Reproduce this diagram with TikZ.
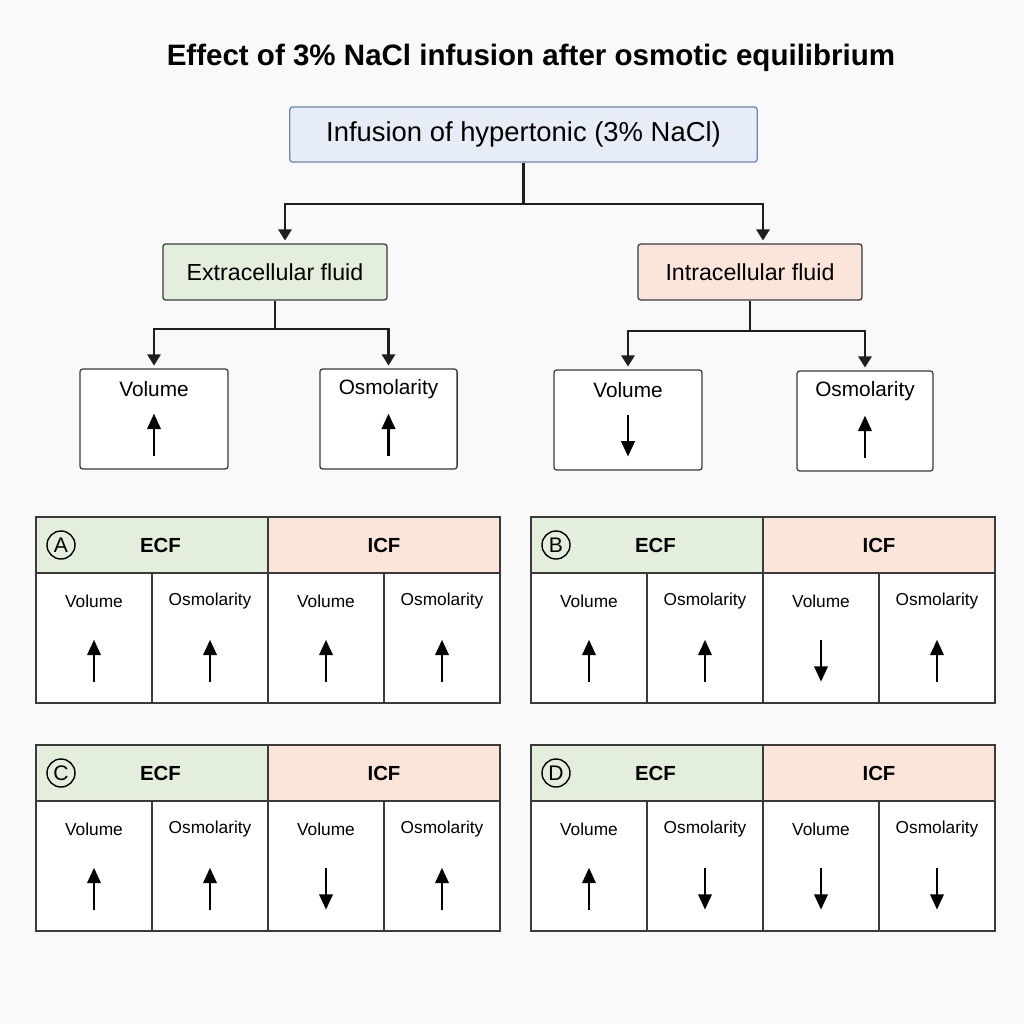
\documentclass[tikz,border=0pt]{standalone}
\usepackage{fontspec}
\setmainfont{Liberation Sans}
\usetikzlibrary{arrows.meta,positioning,calc}
\definecolor{cBg}{HTML}{F9F9F9}
\definecolor{cBlueF}{HTML}{E7EDF7}
\definecolor{cBlueD}{HTML}{6F85AE}
\definecolor{cGreenF}{HTML}{E3EFDC}
\definecolor{cPeachF}{HTML}{FBE5DA}
\definecolor{cLine}{HTML}{1E1E1E}
\definecolor{cBox}{HTML}{3A3A3A}
\tikzset{
  blk/.style    = {rounded corners=2pt, draw=cBox, line width=0.9pt, align=center, inner sep=0pt},
  topbox/.style = {blk, fill=cBlueF, draw=cBlueD, font=\fontsize{19.5}{22}\selectfont,
                   minimum width=11.68cm, minimum height=1.38cm},
  ecfbox/.style = {blk, fill=cGreenF, font=\fontsize{16.5}{19}\selectfont,
                   minimum width=5.6cm, minimum height=1.4cm},
  icfbox/.style = {ecfbox, fill=cPeachF},
  valbox/.style = {blk, fill=white, minimum height=2.5cm},
  valtxt/.style = {font=\fontsize{14.8}{17}\selectfont},
  conn/.style   = {cLine, line width=1.6pt, shorten >=2pt, -{Triangle[width=9.5pt,length=8pt]}},
  upval/.style  = {black, line width=1.9pt, -{Triangle[width=9.5pt,length=11pt]}},
  dnval/.style  = {black, line width=1.9pt, {Triangle[width=9.5pt,length=11pt]}-},
  hdrE/.style   = {draw=cBox, line width=1pt, fill=cGreenF, minimum width=5.8cm,
                   minimum height=1.4cm, font=\bfseries\fontsize{14.5}{17}\selectfont},
  hdrI/.style   = {hdrE, fill=cPeachF},
  cell/.style   = {draw=cBox, line width=1pt, fill=white, minimum width=2.9cm, minimum height=3.25cm},
  celltxt/.style= {font=\fontsize{12.3}{14}\selectfont},
  letterc/.style= {circle, draw=black, line width=1pt, minimum size=0.7cm, inner sep=0pt,
                   font=\fontsize{15}{17}\selectfont},
}

\begin{document}
\begin{tikzpicture}[x=0.025cm, y=-0.025cm]
  \fill[cBg] (0,0) rectangle (1024,1024);
  \useasboundingbox (0,0) rectangle (1024,1024);

  \node[font=\bfseries\fontsize{21}{24}\selectfont] (title) at (531,58)
    {Effect of 3\% NaCl infusion after osmotic equilibrium};

  % tree
  \node[topbox] (infuse) at (523.5,134.5) {Infusion of hypertonic (3\% NaCl)};
  \node[ecfbox] (ecf) at (275,272) {Extracellular fluid};
  \node[icfbox] (icf) at (750,272) {Intracellular fluid};
  \draw[conn] (infuse.south) -- ++(0,41) coordinate (split) -| ($(ecf.north)+(10,0)$);
  \draw[conn] (split) -| ($(icf.north)+(13,0)$);

  \node[valbox, minimum width=3.7cm]  (ecfvol) at (154,419) {};
  \node[valbox, minimum width=3.43cm] (ecfosm) at (388.5,419) {};
  \node[valbox, minimum width=3.7cm]  (icfvol) at (628,420) {};
  \node[valbox, minimum width=3.4cm]  (icfosm) at (865,421) {};
  \draw[conn] (ecf.south) -- ++(0,28) coordinate (esplit) -| (ecfvol.north);
  \draw[conn] (esplit) -| (ecfosm.north);
  \draw[conn] (icf.south) -- ++(0,30) coordinate (isplit) -| (icfvol.north);
  \draw[conn] (isplit) -| (icfosm.north);

  \foreach \b/\t/\s in {ecfvol/Volume/upval, ecfosm/Osmolarity/upval,
                        icfvol/Volume/dnval, icfosm/Osmolarity/upval} {
    \node[valtxt] (\b-t) at ($(\b.north)+(0,21)$) {\t};
    \draw[\s] ($(\b.south)+(0,-14)$) -- ++(0,-42);
  }

  % answer panels
  \foreach \p/\px/\py/\arr in {A/36/517/{upval,upval,upval,upval},
                              B/531/517/{upval,upval,dnval,upval},
                              C/36/745/{upval,upval,dnval,upval},
                              D/531/745/{upval,dnval,dnval,dnval}} {
    \node[hdrE] (\p-ecf) at (\px+116,\py+28) {\hspace{12pt}ECF};
    \node[hdrI] (\p-icf) at (\px+348,\py+28) {ICF};
    \node[letterc] (\p-tag) at (\px+25,\py+28) {\p};
    \foreach \s [count=\i] in \arr {
      \node[cell] (\p-\i) at (\px+58+116*\i-116,\py+121) {};
      \node[celltxt] (\p-\i-t) at ($(\p-\i.north)+(0,29)$)
        {\ifodd\i Volume\else Osmolarity\fi};
      \draw[\s] ($(\p-\i.south)+(0,-22)$) -- ++(0,-42);
    }
  }
\end{tikzpicture}
\end{document}
